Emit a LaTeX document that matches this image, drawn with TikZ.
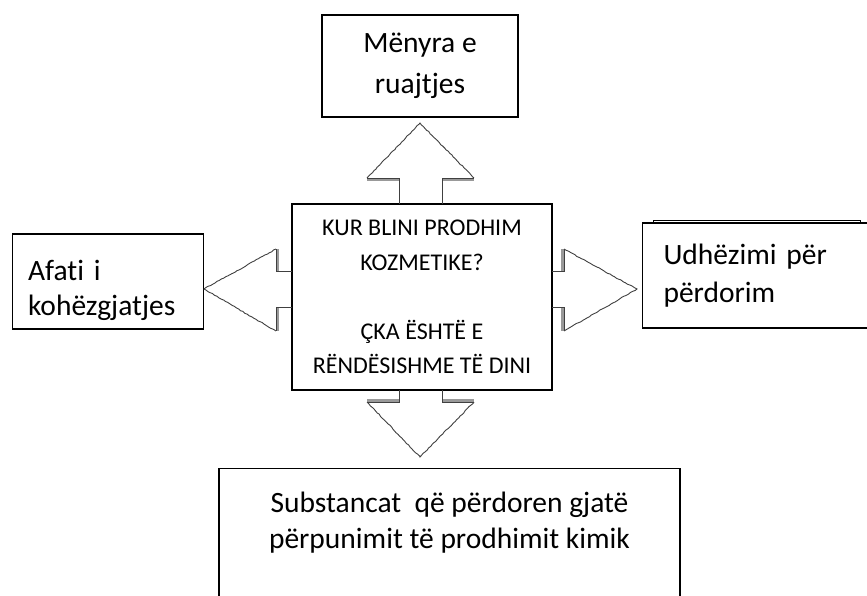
\documentclass[tikz,border=0pt]{standalone}
\usepackage{fontspec}
\setmainfont{Carlito}[Ligatures={NoCommon}]
\usepackage{tikz}
\usetikzlibrary{decorations.pathmorphing}

\begin{document}
\begin{tikzpicture}
 [x=1pt, y=-1pt,
  box node/.style={rectangle, draw, line width=1.1pt, fill=white, inner sep=0pt, font=\fontsize{29.5}{36}\selectfont},
  head line/.style={draw=black!75, line width=0.9pt, decorate, decoration={random steps, segment length=2.5pt, amplitude=0.45pt}},
  stem line/.style={draw=black!75, line width=0.9pt},
  shade line/.style={draw=black!40, line width=2.4pt}]

\useasboundingbox (0,0) rectangle (867,595);
\clip (0,0) rectangle (867,595);

\node[box node, minimum width=260pt, minimum height=186pt, align=center, font=\fontsize{24}{34.5}\selectfont] (kur) at (422,297) {KUR BLINI PRODHIM\\KOZMETIKE?\\[34.5pt]ÇKA ËSHTË E\\RËNDËSISHME TË DINI};
\node[box node, minimum width=196pt, minimum height=102pt, align=center] (ruajtje) at (420,66) {Mënyra e\\[5pt]ruajtjes};
\node[box node, anchor=west, text width=160pt, inner xsep=15.5pt, minimum height=95pt, align=left] (afati) at (12,281.5) {\rule{0pt}{38pt}Afati i\\[-1pt]kohëzgjatjes};
\node[box node, anchor=north west, minimum width=207pt, minimum height=90pt] (hije) at (653,220) {};
\node[box node, anchor=west, text width=215pt, inner xsep=21pt, minimum height=105pt, align=left] (udhezimi) at (642,275.5) {Udhëzimi për\\[2pt]përdorim};
\node[box node, anchor=north, minimum width=461pt, align=center, inner ysep=23pt] (substancat) at (449.5,468) {Substancat\ \ që përdoren gjatë\\përpunimit të prodhimit kimik\\\mbox{}\\\mbox{}};

% up
\draw[shade line] (367,179.5) -- (399,179.5) (442,179.5) -- (474,179.5);
\draw[head line] (367,178) -- (420,123) -- (474,178);
\draw[stem line] (367,178) -- (399,178) -- (399,204) (442,204) -- (442,178) -- (474,178);
% down
\draw[shade line] (367,400.5) -- (399,400.5) (442,400.5) -- (474,400.5);
\draw[head line] (367,402) -- (420,457) -- (474,402);
\draw[stem line] (367,402) -- (399,402) -- (399,390) (442,390) -- (442,402) -- (474,402);
% left
\draw[shade line] (277.5,249) -- (277.5,271) (277.5,307) -- (277.5,331);
\draw[head line] (276,249) -- (204,289) -- (276,331);
\draw[stem line] (276,249) -- (276,271) -- (292,271) (292,307) -- (276,307) -- (276,331);
% right
\draw[shade line] (562.5,249) -- (562.5,271) (562.5,307) -- (562.5,331);
\draw[head line] (564,249) -- (637,289) -- (564,331);
\draw[stem line] (564,249) -- (564,271) -- (552,271) (552,307) -- (564,307) -- (564,331);

\end{tikzpicture}
\end{document}
